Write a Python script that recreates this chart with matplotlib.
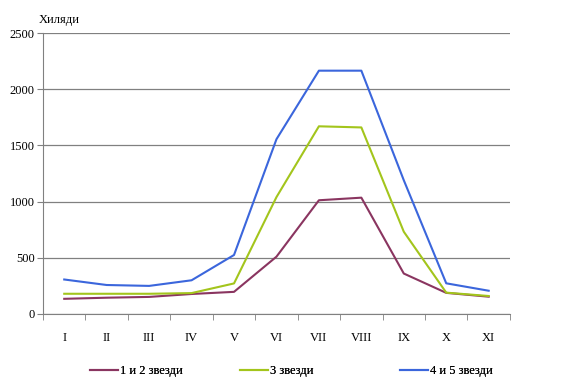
import numpy as np
import matplotlib
matplotlib.use("Agg")
import matplotlib.pyplot as plt

plt.rcParams["font.family"] = ["Liberation Serif", "DejaVu Serif"]

months = ["I", "II", "III", "IV", "V", "VI", "VII", "VIII", "IX", "X", "XI"]
stars_12 = [135, 145, 152, 178, 197, 510, 1012, 1035, 360, 188, 154]
stars_3 = [180, 180, 180, 186, 272, 1040, 1670, 1660, 732, 190, 160]
stars_45 = [307, 258, 250, 300, 525, 1555, 2165, 2165, 1190, 273, 207]
series_names = ["1 и 2 звезди", "3 звезди", "4 и 5 звезди"]
colors = ["#8a3560", "#a3c51c", "#3b66dc"]

fig = plt.figure(figsize=(5.75, 3.84), dpi=100)
ax = fig.add_axes([0.0748, 0.1823, 0.812, 0.7317])

x = np.arange(len(months))
lines = []
for vals, name, c in zip([stars_12, stars_3, stars_45], series_names, colors):
    ln, = ax.plot(x, vals, color=c, lw=1.5, label=name)
    lines.append(ln)

ax.set_xlim(-0.5, len(months) - 0.5)
ax.set_ylim(0, 2500)
ax.set_yticks(range(0, 2501, 500))
ax.yaxis.grid(True, color="#808080", lw=0.9)
ax.set_axisbelow(True)

ax.set_xticks(x)
ax.set_xticklabels(months, fontsize=9)
ax.set_xticks(np.arange(-0.5, len(months)), minor=True)
ax.tick_params(axis="x", which="major", length=0, pad=13)
ax.tick_params(axis="x", which="minor", length=4, color="#808080")
ax.tick_params(axis="y", length=4, color="#808080", labelsize=9, pad=2)

for s in ["top", "right"]:
    ax.spines[s].set_visible(False)
for s in ["left", "bottom"]:
    ax.spines[s].set_color("#808080")

fig.text(0.068, 0.948, "Хиляди", fontsize=9, ha="left", va="center")

# legend entries laid out in fixed slots like the original
for ln, xpos in zip(lines, [90 / 575, 240 / 575, 400 / 575]):
    leg = fig.legend(handles=[ln], loc="center left", bbox_to_anchor=(xpos, 0.034),
                     frameon=False, fontsize=9, handlelength=2.2, handletextpad=0.2,
                     borderpad=0, borderaxespad=0)
    fig.add_artist(leg)

fig.savefig("out.png", dpi=100)
